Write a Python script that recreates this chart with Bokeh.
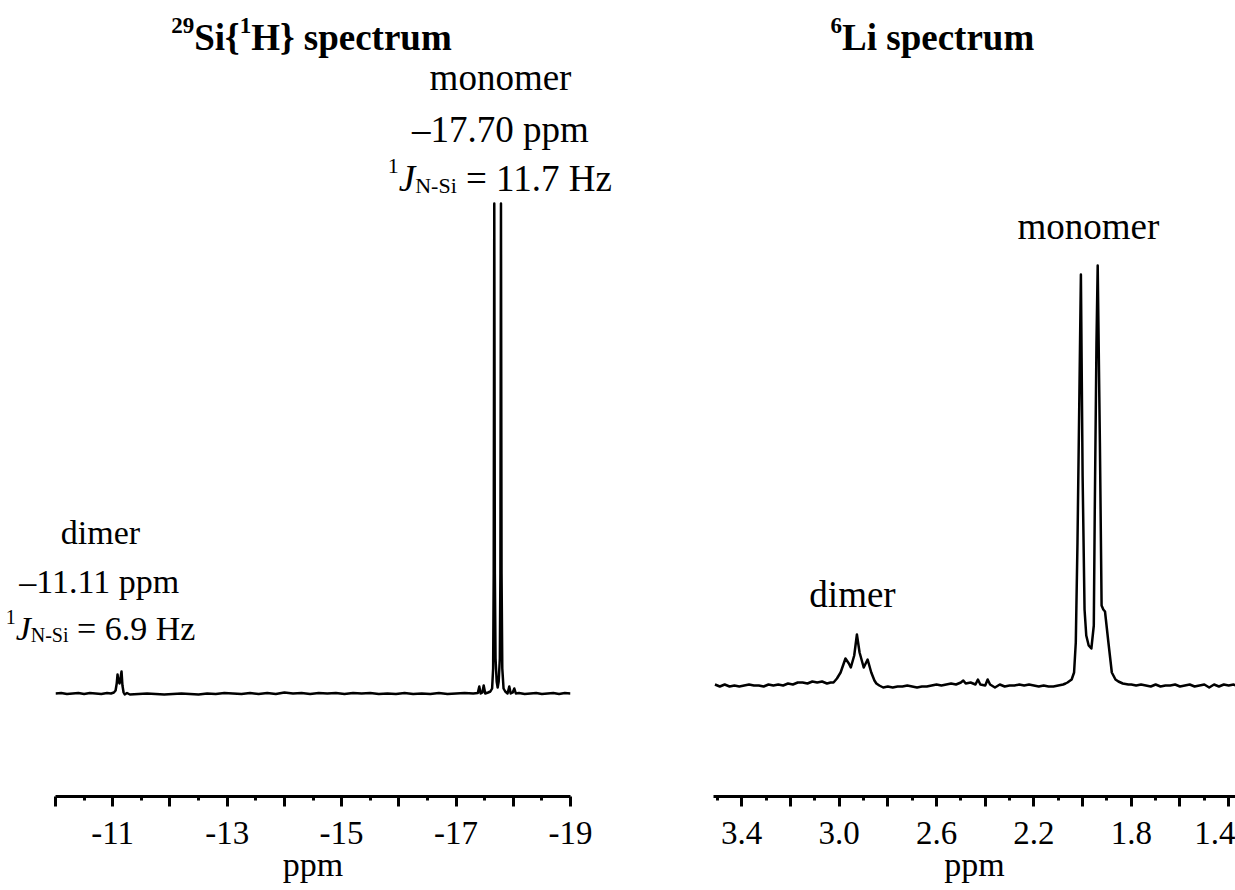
from bokeh.plotting import figure
from bokeh.models import ColumnDataSource, Range1d, FixedTicker
from bokeh.layouts import row
from bokeh.embed import file_html
from bokeh.resources import INLINE
from bokeh.core.properties import value, field

# ---------------- data (ppm, intensity above baseline) ----------------
# 29Si{1H} spectrum
si_baseline_1 = [(-10.00, 0.0), (-10.10, 0.5), (-10.20, -0.5), (-10.30, 0.0), (-10.40, 0.5),
                 (-10.50, -0.5), (-10.60, 0.5), (-10.70, 0.0), (-10.80, -0.5), (-10.90, 0.5),
                 (-10.97, 0.0), (-11.02, 1.0)]
si_dimer = [(-11.05, 3), (-11.07, 10), (-11.084, 19), (-11.10, 12), (-11.119, 10),
            (-11.135, 15), (-11.154, 22), (-11.17, 8), (-11.19, 1), (-11.21, -1), (-11.25, 0.5)]
si_baseline_2 = [(-11.30, -1), (-11.45, -0.5), (-11.60, 0), (-11.75, -0.5), (-11.90, -1),
                 (-12.05, -0.5), (-12.20, 0), (-12.35, -0.5), (-12.50, -1), (-12.65, 0),
                 (-12.80, -0.5), (-12.95, 0.5), (-13.10, 0), (-13.25, -0.5), (-13.40, 0.5),
                 (-13.55, -0.5), (-13.70, 0.5), (-13.85, -0.5), (-14.00, 1), (-14.15, 0),
                 (-14.30, 0.5), (-14.45, -0.5), (-14.60, 0.5), (-14.75, 0), (-14.90, 0.5),
                 (-15.05, -0.5), (-15.20, 0.5), (-15.35, 0), (-15.50, 0.5), (-15.65, -0.5),
                 (-15.80, 0), (-15.95, -0.5), (-16.10, 0.5), (-16.25, -0.5), (-16.40, 0),
                 (-16.55, -0.5), (-16.70, 0.5), (-16.85, -0.5), (-17.00, 0), (-17.15, 0.5),
                 (-17.30, 0)]
si_monomer = [(-17.38, 0.5), (-17.406, 7), (-17.43, 0), (-17.46, 1), (-17.483, 8),
              (-17.51, 0), (-17.56, 1), (-17.60, 2), (-17.63, 5), (-17.648, 25),
              (-17.658, 120), (-17.668, 490), (-17.678, 120), (-17.69, 35), (-17.71, 12),
              (-17.727, 6), (-17.745, 12), (-17.765, 35), (-17.775, 120), (-17.785, 490),
              (-17.795, 120), (-17.808, 25), (-17.83, 5), (-17.86, 2), (-17.90, 0),
              (-17.93, 7), (-17.955, 0), (-17.99, 1), (-18.018, 5), (-18.045, 0)]
si_baseline_3 = [(-18.10, 0.5), (-18.20, -0.5), (-18.30, 0), (-18.40, 0.5), (-18.50, -0.5),
                 (-18.60, 0), (-18.70, 0.5), (-18.80, -0.5), (-18.90, 0.5), (-19.00, 0)]

# 6Li spectrum
li_baseline_1 = [(3.51, 1), (3.49, -1), (3.47, 1), (3.45, -1), (3.43, 0), (3.41, -1),
                 (3.39, 0), (3.37, 1), (3.35, 0), (3.33, 0), (3.31, -1), (3.29, 1),
                 (3.27, 0), (3.25, 1), (3.23, 0), (3.21, 2), (3.19, 1), (3.17, 3),
                 (3.15, 3), (3.13, 2), (3.11, 4), (3.09, 3), (3.07, 4), (3.05, 2), (3.035, 3)]
li_dimer = [(3.023, 3), (3.009, 7), (2.994, 13), (2.974, 27), (2.960, 22), (2.952, 18),
            (2.938, 30), (2.927, 51), (2.916, 33), (2.899, 18), (2.883, 26), (2.868, 13),
            (2.855, 5), (2.847, 2), (2.835, 0), (2.819, -2)]
li_baseline_2 = [(2.80, -1), (2.78, -2), (2.76, -1), (2.74, -1), (2.72, 0), (2.70, -1),
                 (2.68, -2), (2.66, -1), (2.64, -1), (2.62, 0), (2.60, 1), (2.58, 0),
                 (2.56, 1), (2.54, 2), (2.52, 1), (2.50, 3), (2.49, 5), (2.48, 2),
                 (2.46, 3), (2.44, 1), (2.43, 6), (2.42, 1), (2.40, 0), (2.39, 6),
                 (2.38, 1), (2.36, -2), (2.34, 1), (2.32, -1), (2.30, 0), (2.28, 0),
                 (2.26, 1), (2.24, 0), (2.22, 1), (2.20, 0), (2.18, -1), (2.16, 0),
                 (2.14, -1), (2.12, -1), (2.10, 0), (2.08, 1), (2.07, 2)]
li_monomer = [(2.062, 3), (2.045, 6), (2.035, 13), (2.028, 43), (2.021, 143), (2.014, 276),
              (2.007, 411), (2.000, 210), (1.992, 76), (1.985, 50), (1.975, 40), (1.964, 37),
              (1.954, 60), (1.950, 176), (1.943, 343), (1.938, 420), (1.929, 243),
              (1.922, 80), (1.915, 76), (1.908, 74), (1.894, 43), (1.880, 13), (1.865, 6),
              (1.853, 4), (1.835, 2), (1.812, 1)]
li_baseline_3 = [(1.80, 1), (1.78, 0), (1.76, 1), (1.74, 0), (1.72, -1), (1.70, 1),
                 (1.68, -1), (1.66, 0), (1.64, 0), (1.62, 1), (1.60, -1), (1.58, 0),
                 (1.56, 1), (1.54, -1), (1.52, 0), (1.50, 1), (1.48, -2), (1.46, 1),
                 (1.44, -1), (1.42, 1), (1.40, 0), (1.38, 1), (1.372, 0)]

# ticks
si_major_ticks = [-10.0, -11.0, -12.0, -13.0, -14.0, -15.0, -16.0, -17.0, -18.0, -19.0]
si_minor_ticks = [-10.5, -11.5, -12.5, -13.5, -14.5, -15.5, -16.5, -17.5, -18.5]
si_tick_labels = ["", "-11", "", "-13", "", "-15", "", "-17", "", "-19"]
li_major_ticks = [3.4, 3.2, 3.0, 2.8, 2.6, 2.4, 2.2, 2.0, 1.8, 1.6, 1.4]
li_minor_ticks = [3.5, 3.3, 3.1, 2.9, 2.7, 2.5, 2.3, 2.1, 1.9, 1.7, 1.5]
li_tick_labels = ["3.4", "", "3.0", "", "2.6", "", "2.2", "", "1.8", "", "1.4"]

# axis ranges (ppm)
si_range = (-10.0, -19.0)
li_range = (3.516, 1.372)

# peak annotation anchors (ppm)
si_dimer_label_ppm = -10.786
si_monomer_label_ppm = -17.777
li_dimer_label_ppm = 2.945
li_monomer_label_ppm = 1.976

# ---------------- text layout helpers ----------------
FONT = "Liberation Serif"
NB = "\u00a0"
TEXT_DY = 11   # compensation so that text baselines land where intended
W_REG = {' ': 250, NB: 250, '-': 333, '.': 250, '=': 564, 'H': 722, 'N': 722, 'S': 556,
         'd': 500, 'e': 444, 'i': 278, 'm': 778, 'n': 500, 'o': 500, 'p': 500, 'r': 333,
         'z': 444, '\u2013': 500}
W_BOLD = {' ': 250, '{': 394, '}': 394, 'H': 778, 'L': 667, 'S': 556, 'i': 278, 's': 389,
          'p': 556, 'e': 444, 'c': 444, 't': 333, 'r': 444, 'u': 556, 'm': 833}
W_IT = {'J': 444}


def text_width(s, size, style):
    tab = W_BOLD if style == "bold" else (W_IT if style == "italic" else W_REG)
    return sum(tab.get(c, 500) for c in s) / 1000.0 * size


def compose(store, x, y, parts):
    total = sum(text_width(t, s, st) for t, s, st, dy in parts)
    xo = -total / 2.0
    for t, s, st, dy in parts:
        store["x"].append(x)
        store["y"].append(y + TEXT_DY)
        store["text"].append(t)
        store["xo"].append(xo)
        store["yo"].append(dy)
        store["size"].append(f"{s}px")
        store["style"].append(st)
        xo += text_width(t, s, st)


def new_store():
    return {"x": [], "y": [], "text": [], "xo": [], "yo": [], "size": [], "style": []}


# ---------------- figures ----------------
FIG_H = 886
BOTTOM = 90


def make_fig(width, left_border, right_border, xr, yr, ticks, minor, labels):
    p = figure(width=width, height=FIG_H, x_range=xr, y_range=yr,
               output_backend="svg", toolbar_location=None, tools="",
               y_axis_location=None, min_border_left=left_border,
               min_border_right=right_border, min_border_top=0,
               min_border_bottom=BOTTOM, outline_line_color=None)
    p.grid.visible = False
    ax = p.xaxis[0]
    ax.ticker = FixedTicker(ticks=ticks, minor_ticks=minor)
    ax.major_label_overrides = {t: lab for t, lab in zip(ticks, labels)}
    ax.axis_line_width = 3
    ax.axis_line_color = "black"
    ax.major_tick_line_width = 3
    ax.minor_tick_line_width = 3
    ax.major_tick_line_color = "black"
    ax.minor_tick_line_color = "black"
    ax.major_tick_in = 0
    ax.major_tick_out = 10
    ax.minor_tick_in = 0
    ax.minor_tick_out = 4
    ax.major_label_text_font = FONT
    ax.major_label_text_font_size = "33px"
    ax.major_label_text_color = "black"
    ax.major_label_standoff = 15
    return p


def draw_texts(p, store):
    src = ColumnDataSource(store)
    p.text(x="x", y="y", text="text", source=src, x_offset="xo", y_offset="yo",
           text_font=value(FONT), text_font_size=field("size"),
           text_font_style=field("style"), text_align="left",
           text_baseline="alphabetic", text_color="black", level="overlay")


# left panel: 29Si
si = si_baseline_1 + si_dimer + si_baseline_2 + si_monomer + si_baseline_3
p1 = make_fig(625, 55, 55, Range1d(*si_range), Range1d(-103, 693),
              si_major_ticks, si_minor_ticks, si_tick_labels)
p1.line([a for a, b in si], [b for a, b in si], line_width=2.5, line_color="black",
        line_join="round")
t1 = new_store()
compose(t1, -14.474, 645, [("29", 23, "bold", -12), ("Si{", 37, "bold", 0),
                           ("1", 23, "bold", -12), ("H} spectrum", 37, "bold", 0)])
compose(t1, si_monomer_label_ppm, 605, [("monomer", 37, "normal", 0)])
compose(t1, si_monomer_label_ppm, 553, [("\u201317.70 ppm", 37, "normal", 0)])
compose(t1, si_monomer_label_ppm, 504, [("1", 22, "normal", -13), ("J", 37, "italic", 0),
                                        ("N-Si", 22, "normal", 7),
                                        (NB + "=" + NB + "11.7 Hz", 37, "normal", 0)])
compose(t1, si_dimer_label_ppm, 150, [("dimer", 34, "normal", 0)])
compose(t1, si_dimer_label_ppm, 101, [("\u201311.11 ppm", 34, "normal", 0)])
compose(t1, si_dimer_label_ppm, 54, [("1", 20, "normal", -12), ("J", 34, "italic", 0),
                                     ("N-Si", 20, "normal", 6),
                                     (NB + "=" + NB + "6.9 Hz", 34, "normal", 0)])
compose(t1, sum(si_range) / 2, -182, [("ppm", 34, "normal", 0)])
draw_texts(p1, t1)

# right panel: 6Li
li = li_baseline_1 + li_dimer + li_baseline_2 + li_monomer + li_baseline_3
p2 = make_fig(610, 88, 0, Range1d(*li_range), Range1d(-111, 685),
              li_major_ticks, li_minor_ticks, li_tick_labels)
p2.line([a for a, b in li], [b for a, b in li], line_width=2.5, line_color="black",
        line_join="round")
t2 = new_store()
compose(t2, 2.617, 637, [("6", 23, "bold", -12), ("Li spectrum", 37, "bold", 0)])
compose(t2, li_monomer_label_ppm, 448, [("monomer", 37, "normal", 0)])
compose(t2, li_dimer_label_ppm, 80, [("dimer", 37, "normal", 0)])
compose(t2, sum(li_range) / 2, -190, [("ppm", 34, "normal", 0)])
draw_texts(p2, t2)

layout = row(p1, p2)
open("out.html", "w").write(file_html(layout, INLINE))
